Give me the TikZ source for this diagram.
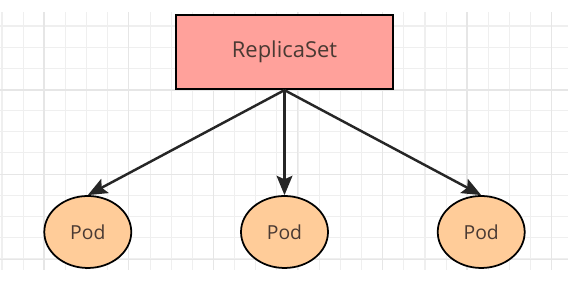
\documentclass[tikz,border=0pt]{standalone}
\usepackage{fontspec}
\setmainfont{Open Sans}
\usetikzlibrary{positioning, arrows.meta, shapes.geometric}

\definecolor{rsfill}{HTML}{FFA19B}
\definecolor{podfill}{HTML}{FFCC99}
\definecolor{txtcol}{HTML}{4A3A33}
\definecolor{gridminor}{HTML}{EFEFEF}
\definecolor{gridmajor}{HTML}{E6E6E6}

\begin{document}
\begin{tikzpicture}[
  x=0.02cm, y=-0.02cm,
  rsbox/.style={draw, rectangle, line width=1.3pt, fill=rsfill, text=txtcol,
                minimum width=4.34cm, minimum height=1.48cm,
                font=\fontsize{12.5}{15}\selectfont},
  pod/.style={draw, ellipse, line width=1pt, fill=podfill, text=txtcol,
              minimum width=1.74cm, minimum height=1.44cm, inner sep=0pt,
              font=\fontsize{11}{13}\selectfont},
  arr/.style={-{Stealth[length=11pt, width=9pt, inset=2pt]}, line width=1.4pt,
              draw=black!85, fill=black!85}
]
  \useasboundingbox[fill=white] (0,0) rectangle (568,281);
  % background grid
  \foreach \i in {0,...,26}
    \draw[gridminor, line width=0.6pt] ({2+21.15*\i},12) -- ({2+21.15*\i},270);
  \foreach \j in {0,...,11}
    \draw[gridminor, line width=0.6pt] (0,{26+21.15*\j}) -- (568,{26+21.15*\j});
  \foreach \i in {0,...,6}
    \draw[gridmajor, line width=0.7pt] ({44+84.6*\i},12) -- ({44+84.6*\i},270);
  \foreach \j in {0,...,2}
    \draw[gridmajor, line width=0.7pt] (0,{90+84.6*\j}) -- (568,{90+84.6*\j});

  \node[rsbox] (rs) at (284.5,52) {ReplicaSet};
  \node[pod, below=2.1cm of rs]    (pod2) {Pod};
  \node[pod, left=2.16cm of pod2]  (pod1) {Pod};
  \node[pod, right=2.16cm of pod2] (pod3) {Pod};
  \draw[arr] (rs.south) -- (pod1.north);
  \draw[arr] (rs.south) -- (pod2.north);
  \draw[arr] (rs.south) -- (pod3.north);
\end{tikzpicture}
\end{document}
